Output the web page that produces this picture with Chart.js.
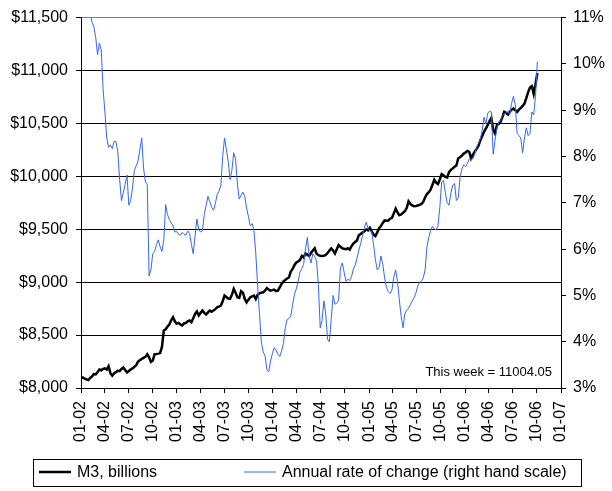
<!DOCTYPE html>
<html>
<head>
<meta charset="utf-8">
<script src="https://cdn.jsdelivr.net/npm/chart.js@4.4.1/dist/chart.umd.min.js"></script>
<style>
body { margin: 0; background: #fff; }
</style>
</head>
<body>
<canvas id="m3Chart" width="612" height="491"></canvas>
<script>
// 週ごとのデータ。最初の週は2002年1月7日。
let firstWeek = '2002-01-07';

// M3 (billions), 1週ずつ
let m3 = [
  8091, 8100, 8088, 8082, 8075, 8095, 8110, 8131, 8128, 8150,
  8175, 8168, 8180, 8185, 8175, 8207, 8140, 8116, 8140, 8150,
  8163, 8160, 8180, 8194, 8170, 8147, 8160, 8175, 8185, 8200,
  8215, 8250, 8263, 8275, 8285, 8294, 8319, 8290, 8247, 8260,
  8319, 8320, 8325, 8331, 8388, 8544, 8555, 8580, 8600, 8640,
  8669, 8630, 8607, 8615, 8600, 8591, 8610, 8615, 8630, 8638,
  8622, 8660, 8700, 8723, 8685, 8710, 8732, 8710, 8694, 8715,
  8732, 8720, 8732, 8745, 8763, 8770, 8779, 8820, 8873, 8860,
  8845, 8842, 8880, 8936, 8900, 8857, 8851, 8915, 8900, 8842,
  8810, 8835, 8857, 8865, 8873, 8842, 8880, 8895, 8900, 8904,
  8920, 8945, 8930, 8920, 8925, 8930, 8915, 8920, 8950, 8983,
  9007, 9020, 9035, 9045, 9100, 9125, 9160, 9186, 9195, 9210,
  9248, 9233, 9270, 9260, 9248, 9275, 9300, 9320, 9270, 9255,
  9250, 9248, 9250, 9257, 9275, 9300, 9320, 9300, 9270, 9310,
  9351, 9335, 9320, 9315, 9311, 9320, 9307, 9340, 9365, 9380,
  9395, 9445, 9455, 9470, 9480, 9498, 9490, 9514, 9480, 9450,
  9436, 9470, 9510, 9530, 9560, 9583, 9580, 9583, 9600, 9608,
  9650, 9695, 9660, 9633, 9640, 9655, 9670, 9700, 9764, 9740,
  9725, 9717, 9720, 9725, 9730, 9739, 9760, 9800, 9833, 9850,
  9874, 9920, 9968, 9940, 9927, 9970, 10021, 10010, 9995, 9989,
  10040, 10061, 10075, 10090, 10102, 10171, 10180, 10195, 10215, 10225,
  10240, 10232, 10171, 10205, 10233, 10260, 10290, 10340, 10380, 10421,
  10450, 10484, 10520, 10552, 10440, 10405, 10484, 10495, 10515, 10560,
  10609, 10600, 10583, 10610, 10630, 10640, 10625, 10609, 10630, 10646,
  10665, 10687, 10740, 10796, 10840, 10853, 10780, 10870, 10975
];

// 年率の変化 (%)、右の目盛り
let rate = [
  11.9, 11.75, 11.6, 11.45, 11.3, 11.1, 10.9, 10.8, 10.57, 10.2,
  10.45, 10.3, 9.46, 8.96, 8.4, 8.2, 8.25, 8.17, 8.33, 8.32,
  8.1, 7.5, 7.05, 7.22, 7.4, 7.6, 6.95, 7.05, 7.32, 7.7,
  7.8, 7.9, 8.15, 8.4, 7.75, 7.45, 7.4, 5.42, 5.55, 5.9,
  5.95, 6.1, 6.2, 6.05, 5.95, 6.2, 6.96, 6.75, 6.64, 6.57,
  6.5, 6.37, 6.38, 6.32, 6.3, 6.36, 6.32, 6.3, 6.39, 6.34,
  6.1, 5.9, 6.3, 6.65, 6.42, 6.37, 6.4, 6.75, 6.95, 7.14,
  7.02, 6.9, 6.84, 6.98, 7.18, 7.25, 7.38, 8.0, 8.4, 8.15,
  7.9, 7.5, 7.7, 8.08, 7.95, 7.4, 7.08, 7.16, 7.23, 7.14,
  6.88, 6.7, 6.5, 6.55, 6.4, 5.9, 5.2, 4.6, 4.0, 3.78,
  3.7, 3.4, 3.35, 3.58, 3.74, 3.87, 3.82, 3.73, 3.68, 3.8,
  3.96, 4.3, 4.48, 4.5, 4.55, 4.8, 5.02, 5.14, 5.3, 5.5,
  5.58, 5.67, 6.0, 6.25, 5.85, 5.7, 5.9, 5.84, 5.75, 5.24,
  4.3, 4.46, 4.88, 4.6, 4.05, 4.0, 4.5, 5.0, 4.81, 4.83,
  4.89, 5.6, 5.7, 5.5, 5.3, 5.35, 5.32, 5.4, 5.57, 5.65,
  5.8, 5.98, 6.12, 6.3, 6.47, 6.58, 6.44, 6.4, 6.38, 6.1,
  5.77, 5.55, 5.6, 5.85, 5.67, 5.38, 5.17, 5.08, 5.04, 5.12,
  5.4, 5.55, 5.3, 4.9, 4.55, 4.3, 4.6, 4.68, 4.72, 4.8,
  4.88, 4.95, 5.05, 5.2, 5.28, 5.31, 5.38, 5.55, 6.05, 6.25,
  6.4, 6.49, 6.43, 6.42, 6.5, 6.9, 7.45, 7.48, 7.22, 7.0,
  6.95, 7.2, 7.38, 7.42, 7.05, 7.1, 7.55, 7.73, 7.82, 7.78,
  7.85, 7.95, 7.94, 7.95, 8.05, 8.2, 8.28, 8.38, 8.55, 8.85,
  8.7, 8.93, 8.98, 8.96, 8.05, 8.35, 8.6, 8.75, 8.78, 8.88,
  8.92, 8.93, 8.97, 8.9, 9.15, 9.3, 9.12, 8.5, 8.45, 8.4,
  8.08, 8.4, 8.62, 8.45, 8.5, 8.96, 8.9, 9.3, 10.05
];

// x軸のラベル (月-年)
let tickLabels = ['01-02', '04-02', '07-02', '10-02', '01-03', '04-03', '07-03', '10-03',
  '01-04', '04-04', '07-04', '10-04', '01-05', '04-05', '07-05', '10-05',
  '01-06', '04-06', '07-06', '10-06', '01-07'];

let thisWeek = '11004.05';

// 日付 -> 最初の週からの日数
let DAY = 86400000;
let start = Date.parse(firstWeek);
let labelToX = function(label) {
  let p = label.split('-');
  return (Date.UTC(2000 + Number(p[1]), Number(p[0]) - 1, 7) - start) / DAY;
};
let tickX = tickLabels.map(labelToX);

let m3Points = m3.map((v, i) => ({x: i * 7, y: v}));
let ratePoints = rate.map((v, i) => ({x: i * 7, y: v}));

let FONT = "'Liberation Sans', Arial, sans-serif";
Chart.defaults.font.family = FONT;
Chart.defaults.font.size = 16;
Chart.defaults.color = '#000';

// 凡例と「This week」の文字を描くプラグイン
let legendBox = {
  id: 'legendBox',
  afterDraw: function(chart) {
    let ctx = chart.ctx;
    let area = chart.chartArea;
    ctx.save();
    ctx.fillStyle = '#000';
    ctx.font = '13px ' + FONT;
    ctx.textAlign = 'right';
    ctx.textBaseline = 'middle';
    ctx.fillText('This week = ' + thisWeek, area.right - 9, area.bottom - 16);

    ctx.strokeStyle = '#000';
    ctx.lineWidth = 1;
    ctx.strokeRect(33.5, 459.5, 548, 27);

    let itemX = [39, 244];
    ctx.font = '16px ' + FONT;
    ctx.textAlign = 'left';
    chart.data.datasets.forEach(function(ds, i) {
      ctx.strokeStyle = ds.borderColor;
      ctx.lineWidth = ds.borderWidth;
      ctx.beginPath();
      ctx.moveTo(itemX[i], 472);
      ctx.lineTo(itemX[i] + 32, 472);
      ctx.stroke();
      ctx.fillText(ds.label, itemX[i] + 38, 473);
    });
    ctx.restore();
  }
};

new Chart(document.getElementById('m3Chart'), {
  type: 'line',
  data: {
    datasets: [{
      label: 'M3, billions',
      data: m3Points,
      borderColor: '#000000',
      borderWidth: 2.5,
      pointRadius: 0,
      yAxisID: 'y',
      order: 2
    }, {
      label: 'Annual rate of change (right hand scale)',
      data: ratePoints,
      borderColor: '#3366ff',
      borderWidth: 1,
      pointRadius: 0,
      yAxisID: 'y2',
      order: 1
    }]
  },
  options: {
    responsive: false,
    animation: false,
    devicePixelRatio: 1,
    layout: { padding: { top: 15, left: 0, right: 0, bottom: 0 } },
    plugins: {
      legend: { display: false },
      tooltip: { enabled: false }
    },
    scales: {
      x: {
        type: 'linear',
        min: 0,
        max: tickX[tickX.length - 1],
        afterBuildTicks: function(s) { s.ticks = tickX.map(v => ({value: v})); },
        afterFit: function(s) { s.height = 103; },
        ticks: {
          autoSkip: false,
          minRotation: 90,
          maxRotation: 90,
          padding: 8,
          callback: function(v, i) { return tickLabels[i]; }
        },
        grid: { drawOnChartArea: false, tickLength: 5, tickColor: '#000' },
        border: { color: '#000' }
      },
      y: {
        position: 'left',
        min: 8000,
        max: 11500,
        afterFit: function(s) { s.width = 81; },
        ticks: {
          stepSize: 500,
          padding: 8,
          callback: function(v) { return '$' + v.toLocaleString('en-US'); }
        },
        grid: {
          color: function(c) { return c.tick && c.tick.value === 11500 ? '#808080' : '#000'; },
          tickLength: 5,
          tickColor: '#000'
        },
        border: { color: '#000' }
      },
      y2: {
        position: 'right',
        min: 3,
        max: 11,
        afterFit: function(s) { s.width = 51; },
        ticks: {
          stepSize: 1,
          padding: 7,
          callback: function(v) { return v + '%'; }
        },
        grid: { drawOnChartArea: false, tickLength: 5, tickColor: '#000' },
        border: { color: '#000' }
      }
    }
  },
  plugins: [legendBox]
});
</script>
</body>
</html>
